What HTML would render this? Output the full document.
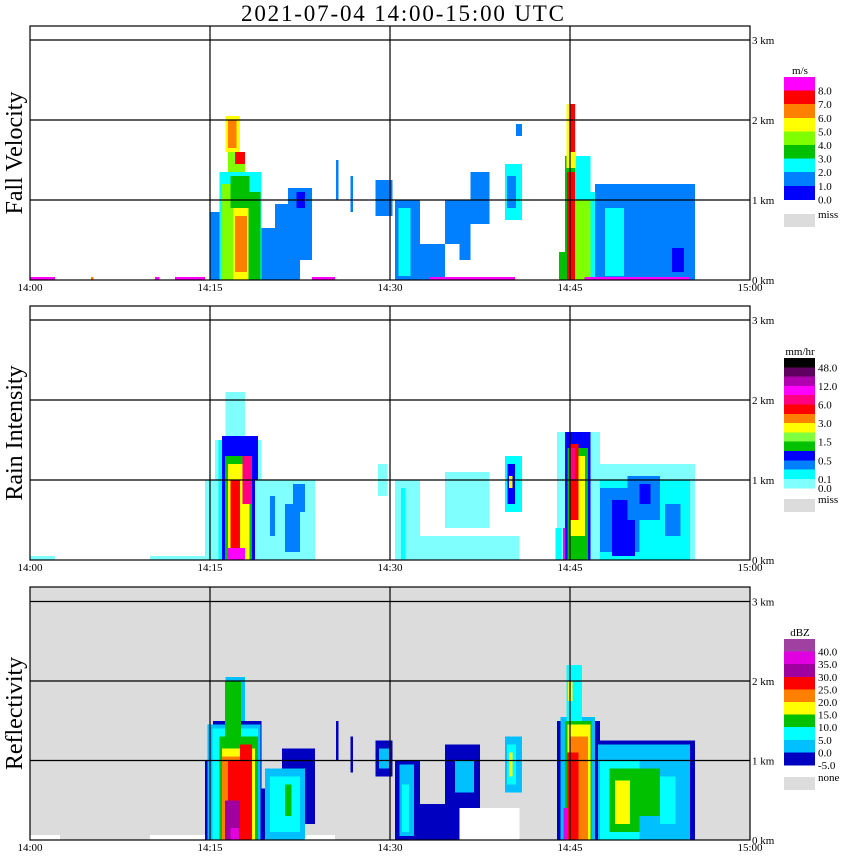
<!DOCTYPE html>
<html><head><meta charset="utf-8"><style>
body{margin:0;background:#fff;}
svg{display:block;font-family:"Liberation Serif",serif;}
</style></head><body>
<svg id="chart" width="850" height="868" viewBox="0 0 850 868" xmlns="http://www.w3.org/2000/svg">
<text x="241" y="21" font-size="23" textLength="323" lengthAdjust="spacing">2021-07-04   14:00-15:00 UTC</text>
</svg>
<script>
// ---- data: rectangles of echo (minutes after 14:00, km heights, value) ----
const timeTicks = ["14:00","14:15","14:30","14:45","15:00"];
const heightTicks = ["0 km","1 km","2 km","3 km"];

// Fall velocity (m/s)
const fvStart = [15.0,15.8,16.0,16.9,17.1,18.2,16.7,16.5,17.1,16.3,16.5,19.3,20.4,21.5,22.2,25.5,26.7,28.8,30.4,30.7,32.5,34.6,35.8,36.7,39.6,39.75,40.5,44.1,44.6,45.4,44.75,45.4,44.7,45.0,46.7,47.1,47.9,53.5,0,10.4,12.1,23.5,33.3,46.2,5.1];
const fvEnd   = [16.0,19.3,16.9,18.3,18.1,19.2,18.3,17.9,17.9,17.5,17.2,21.0,22.5,23.5,22.9,25.7,26.9,30.2,32.5,31.7,34.6,36.7,36.7,38.3,41.0,40.5,41.0,44.6,46.7,46.7,45.4,46.7,45.5,45.4,47.5,55.4,49.5,54.5,2.1,10.8,14.6,25.4,40.4,55.0,5.3];
const fvBase  = [0,0,0,0,0.1,0,0.9,1.35,1.45,1.6,1.65,0,0,0.25,0.9,1.0,0.85,0.8,0,0.05,0,0.45,0.25,0.7,0.75,0.9,1.8,0,0,0,0,1.0,1.4,1.6,0,0,0.05,0.1,0,0,0,0,0,0,0];
const fvTop   = [0.85,1.35,1.2,0.9,0.8,1.1,1.3,1.6,1.6,2.05,2.0,0.65,0.95,1.15,1.1,1.5,1.3,1.25,1.0,0.9,0.45,1.0,0.55,1.35,1.45,1.3,1.95,0.35,1.55,1.0,1.35,1.55,2.2,2.2,1.1,1.2,0.9,0.4,0.04,0.04,0.04,0.04,0.04,0.04,0.04];
const fvVal   = [1.5,2.5,4.5,5.5,6.5,3.5,3.5,4.5,7.5,5.5,6.5,1.5,1.5,1.5,0.5,1.5,1.5,1.5,1.5,2.5,1.5,1.5,1.5,1.5,2.5,1.5,1.5,3.5,3.5,4.5,7.5,2.5,5.5,7.5,2.5,1.5,2.5,0.5,8.5,8.5,8.5,8.5,8.5,8.5,6.5];
const fvLevels = [0,1,2,3,4,5,6,7,8];
const fvColors = ["#0000ff","#0080ff","#00ffff","#00c000","#80ff00","#ffff00","#ff8000","#ff0000","#ff00ff"];
const fvLabels = ["8.0","7.0","6.0","5.0","4.0","3.0","2.0","1.0","0.0"];

// Rain intensity (mm/hr)
const riStart = [14.6,15.4,16.3,15.7,16.0,16.25,16.5,16.7,17.7,16.5,18.75,20.0,21.25,21.9,29.0,30.4,32.5,34.6,30.9,39.6,39.8,39.9,43.9,43.8,44.4,44.6,44.8,45.0,45.0,45.0,47.1,47.5,47.5,48.5,49.8,50.8,52.9,0,10.0];
const riEnd   = [19.3,19.3,17.9,16.25,19.0,18.5,18.3,17.5,18.5,17.9,23.75,20.4,22.5,22.9,29.8,32.5,40.8,38.3,31.3,41.0,40.4,40.2,47.5,44.3,44.8,46.7,46.5,46.25,45.7,45.4,55.4,55.0,50.8,50.4,52.5,51.7,54.2,2.1,14.6];
const riBase  = [0,0,1.5,0,0,0,0,0,0.7,0,0,0.3,0.1,0.6,0.8,0,0,0.4,0,0.6,0.7,0.9,0,0,0,0,0,0.3,0.5,1.0,0,0,0.1,0.05,0.5,0.7,0.3,0,0];
const riTop   = [1.0,1.5,2.1,1.5,1.55,1.3,1.2,1.0,1.3,0.15,1.0,0.8,0.7,0.95,1.2,1.0,0.3,1.1,0.9,1.3,1.2,1.05,1.6,0.4,0.4,1.6,1.4,1.3,1.45,1.4,1.2,1.0,0.9,0.75,1.05,0.95,0.7,0.05,0.05];
const riVal   = [0.03,0.03,0.03,0.07,0.4,0.7,1.7,3.5,5,7,0.03,0.15,0.15,0.15,0.03,0.03,0.03,0.03,0.07,0.07,0.4,1.7,0.03,0.07,7,0.4,0.7,1.7,3.5,5,0.03,0.07,0.15,0.4,0.15,0.4,0.15,0.03,0.03];
const riLevels = [0,0.05,0.1,0.3,0.5,1,1.5,2,3,4.5,6,9,12,24];
const riColors = ["#80ffff","#00ffff","#0080ff","#0000ff","#00c000","#80ff40","#ffff00","#ff8000","#ff0000","#ff0080","#ff00ff","#b000b0","#600060","#000000"];
const riLabels = ["48.0","","12.0","","6.0","","3.0","","1.5","","0.5","","0.1","0.0"];

// Reflectivity (dBZ)
const rfStart = [0,10.0,21.5,34.0,14.6,15.25,16.3,14.8,15.2,15.8,16.25,16.0,16.0,16.5,17.5,16.25,16.7,19.3,21.0,19.6,20.0,21.25,25.5,26.7,28.8,29.1,30.4,30.8,31.0,32.5,34.6,35.4,39.6,39.75,39.9,43.9,44.2,44.6,44.8,45.0,44.8,44.45,44.7,44.85,47.1,47.35,47.5,48.3,48.75,50.8,52.5];
const rfEnd   = [2.5,14.6,25.4,40.8,19.3,19.3,17.9,19.2,19.0,19.0,17.6,18.75,18.5,18.5,18.5,17.5,17.4,21.7,23.75,22.9,22.5,21.8,25.7,26.9,30.2,29.9,32.5,32.0,31.6,35.8,37.5,37.0,41.0,40.5,40.2,47.5,47.1,46.8,46.7,46.5,45.7,44.75,46.0,45.2,55.4,55.0,50.8,50.8,50.0,52.5,53.8];
const rfBase  = [0,0,0,0,0,0,1.5,0,0,0,1.3,0,0,0,1.0,0,0,0,0.2,0,0.1,0.3,1.0,0.85,0.8,0.9,0,0.05,0.1,0,0.4,0.6,0.6,0.7,0.8,0,0,0,0,0,0,0,1.5,1.75,0,0,0,0.1,0.2,0.3,0.2];
const rfTop   = [0.06,0.06,0.06,0.4,1.0,1.5,2.05,1.45,1.4,1.3,2.0,1.15,1.05,1.0,1.2,0.5,0.15,0.65,1.15,0.9,0.8,0.7,1.5,1.3,1.25,1.15,1.0,0.95,0.7,0.45,1.2,1.0,1.3,1.2,1.1,1.5,1.55,1.5,1.45,1.3,1.1,0.4,2.2,2.0,1.25,1.2,1.0,0.9,0.75,0.9,0.8];
const rfVal   = [-7,-7,-7,-7,-2,-2,2,2,7,12,12,17,22,27,27,32,37,-2,-2,2,7,12,-2,-2,-2,2,-2,2,7,-2,-2,2,2,7,17,-2,2,12,17,22,27,37,7,17,-2,2,7,12,17,12,7];
const rfLevels = [-99,-5,0,5,10,15,20,25,30,35,40];
const rfColors = ["#ffffff","#0000c0","#00c0ff","#00ffff","#00c000","#ffff00","#ff8000","#ff0000","#a000a0","#e000e0","#a040a0"];
const rfLabels = ["40.0","35.0","30.0","25.0","20.0","15.0","10.0","5.0","0.0","-5.0"];

const NS = "http://www.w3.org/2000/svg";
const svg = document.getElementById("chart");
function mk(tag, attrs, parent){const e=document.createElementNS(NS,tag);for(const k in attrs)e.setAttribute(k,attrs[k]);(parent||svg).appendChild(e);return e;}
const X0=30, X1=750;
function xScale(t){return X0 + t*(X1-X0)/60;}
function colorFor(v, levels, colors){let i=0;for(let k=0;k<levels.length;k++){if(v>=levels[k])i=k;}return colors[i];}

function panel(cfg){
  const g = mk("g",{});
  
  
  const y0 = cfg.base, kp = cfg.kmPx;
  const yScale = h => y0 - h*kp;
  const bg = mk("rect",{x:X0,y:cfg.top,width:X1-X0,height:y0-cfg.top,fill:cfg.bg},g);
  
  
  const cells = mk("g",{"shape-rendering":"crispEdges"},g);
  
  
  for(let i=0;i<cfg.s.length;i++){
    const x=xScale(cfg.s[i]), w=xScale(cfg.e[i])-x, yt=yScale(cfg.t[i]), yb=yScale(cfg.b[i]);
    const r = mk("rect",{x:x,y:yt,width:w,height:Math.max(1,yb-yt),fill:colorFor(cfg.v[i],cfg.levels,cfg.colors)},cells);
    
    
  }
  for(let h=1;h<=3;h++){
    const l = mk("line",{x1:X0,x2:X1,y1:yScale(h),y2:yScale(h),stroke:"#000","stroke-width":1.2},g);
    
    
  }
  for(let m=15;m<60;m+=15){
    const l = mk("line",{x1:xScale(m),x2:xScale(m),y1:cfg.top,y2:y0,stroke:"#000","stroke-width":1.2},g);
    
    
  }
  const fr = mk("rect",{x:X0,y:cfg.top,width:X1-X0,height:y0-cfg.top,fill:"none",stroke:"#000","stroke-width":1.2},g);
  
  
  heightTicks.forEach((lab,i)=>{
    const t = mk("text",{x:752,y:yScale(i)+4,"font-size":11},g);
    t.textContent = lab;
    
    
  });
  timeTicks.forEach((lab,i)=>{
    const t = mk("text",{x:xScale(i*15),y:y0+11,"font-size":11,"text-anchor":"middle"},g);
    t.textContent = lab;
    
    
  });
  const yt = mk("text",{x:0,y:0,"font-size":24,"text-anchor":"middle",transform:`translate(22,${(cfg.top+y0)/2}) rotate(-90)`},g);
  yt.textContent = cfg.title;
  
  
  const lg = mk("g",{},g);
  
  
  const n = cfg.colors.length;
  const ut = mk("text",{x:800,y:cfg.legTop-3,"font-size":11,"text-anchor":"middle"},lg);
  ut.textContent = cfg.unit;
  
  
  for(let k=0;k<n;k++){
    const c = cfg.colors[n-1-k];
    if(c==="#ffffff") continue;
    const r = mk("rect",{x:784,y:cfg.legTop+k*cfg.bh,width:31,height:cfg.bh+0.5,fill:c,"shape-rendering":"crispEdges"},lg);
    
    
  }
  cfg.labels.forEach((lab,k)=>{
    if(!lab) return;
    const t = mk("text",{x:818,y:cfg.legTop+(k+1)*cfg.bh+cfg.lblOff,"font-size":11},lg);
    t.textContent = lab;
    
    
  });
  const mr = mk("rect",{x:784,y:cfg.missY,width:31,height:13,fill:"#dcdcdc"},lg);
  
  
  const mt = mk("text",{x:818,y:cfg.missY+4,"font-size":11},lg);
  mt.textContent = cfg.missLabel;
  
  
}

panel({name:"fall-velocity-panel",title:"Fall Velocity",top:26,base:280,kmPx:80,bg:"#ffffff",
  s:fvStart,e:fvEnd,b:fvBase,t:fvTop,v:fvVal,levels:fvLevels,colors:fvColors,
  unit:"m/s",legTop:77,bh:13.6,labels:fvLabels,lblOff:4,missY:214,missLabel:"miss"});
panel({name:"rain-intensity-panel",title:"Rain Intensity",top:306,base:560,kmPx:80,bg:"#ffffff",
  s:riStart,e:riEnd,b:riBase,t:riTop,v:riVal,levels:riLevels,colors:riColors,
  unit:"mm/hr",legTop:358,bh:9.3,labels:riLabels,lblOff:4,missY:499,missLabel:"miss"});
panel({name:"reflectivity-panel",title:"Reflectivity",top:587,base:840,kmPx:79.5,bg:"#dcdcdc",
  s:rfStart,e:rfEnd,b:rfBase,t:rfTop,v:rfVal,levels:rfLevels,colors:rfColors,
  unit:"dBZ",legTop:639,bh:12.6,labels:rfLabels,lblOff:4,missY:777,missLabel:"none"});
</script>
</body></html>
